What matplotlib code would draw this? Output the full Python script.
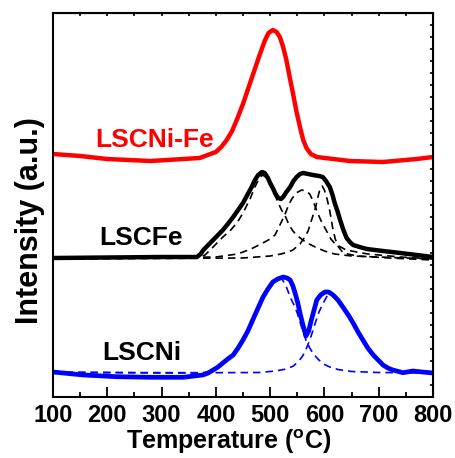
import matplotlib
matplotlib.use("Agg")
import matplotlib.pyplot as plt
from matplotlib.ticker import MultipleLocator, NullFormatter

plt.rcParams.update({
    "font.family": ["Liberation Sans", "DejaVu Sans"],
    "font.weight": "bold",
    "mathtext.fontset": "custom",
    "mathtext.rm": "Liberation Sans:bold",
    "mathtext.default": "rm",
})

RED = "#ff0000"
BLUE = "#0000ff"
BLACK = "#000000"

# --- data (intensity in arbitrary stacked units) ---
t_nife = [100, 150, 200, 280, 370, 400, 410, 420, 430, 440, 450, 460, 470, 480,
          490, 497, 505, 512, 518, 524, 530, 536, 542, 548, 555, 561, 567, 575,
          586, 647, 708, 770, 800]
i_nife = [243, 241, 238, 236, 239, 245, 250, 257, 266, 279, 293, 309, 325, 341,
          356, 364, 367, 365, 360, 350, 337, 320, 304, 287, 270, 257, 249, 243,
          240, 236, 235, 238, 240]

t_fe = [100, 200, 300, 365, 372, 377, 386, 395, 404, 413, 422, 432, 441, 450,
        458, 466, 472, 478, 485, 490, 496, 500, 505, 510, 515, 520, 524, 530,
        537, 543, 549, 555, 561, 570, 579, 590, 597, 603, 610, 615, 619, 624,
        629, 635, 641, 647, 653, 665, 678, 708, 740, 770, 800]
i_fe = [139, 139.5, 140, 140, 143, 147, 152, 157, 162, 167, 173, 180, 187, 194,
        202, 210, 217, 222, 225, 224, 219, 214, 209, 203, 199, 198, 200, 205,
        210, 216, 220, 223, 224, 223, 222, 221, 220, 216, 210, 202, 194, 186,
        177, 167, 159, 155, 152, 150, 148, 146, 144, 142, 140]

# LSCFe fitted components
t_fe1 = [100, 300, 370, 380, 395, 413, 426, 440, 450, 463, 472, 480, 486, 492,
         500, 508, 515, 522, 527, 535, 542, 549, 560, 572, 583, 600, 619, 650,
         700, 800]
i_fe1 = [139, 139, 139.5, 142, 150, 160, 166, 175, 184, 198, 210, 219, 222, 220,
         212, 203, 194, 186, 182, 172, 166, 162, 157, 153, 150, 146, 143, 141,
         140, 138]
t_fe2 = [100, 400, 440, 465, 490, 500, 509, 518, 527, 534, 540, 548, 558, 566,
         573, 580, 586, 594, 604, 612, 620, 640, 680, 740, 800]
i_fe2 = [138.5, 140, 143, 148, 155, 158, 162, 172, 182, 192, 198, 204, 207, 206,
         203, 195, 186, 176, 166, 158, 153, 147, 143, 140, 138]
t_fe3 = [100, 450, 500, 520, 533, 542, 555, 564, 570, 577, 584, 588, 592, 596,
         600, 605, 610, 615, 620, 626, 635, 660, 720, 800]
i_fe3 = [138, 139, 141, 143, 145, 147, 153, 160, 166, 178, 190, 200, 208, 211,
         207, 198, 186, 170, 158, 150, 144, 141, 139, 137]

t_ni = [100, 156, 217, 279, 340, 376, 386, 395, 404, 413, 422, 432, 441, 450,
        459, 468, 477, 487, 496, 505, 514, 524, 531, 537, 542, 546, 551, 555,
        560, 566, 571, 576, 581, 586, 593, 601, 608, 616, 625, 634, 644, 653,
        662, 671, 680, 690, 699, 708, 717, 726, 745, 763, 780, 800]
i_ni = [25, 22, 20.3, 19.7, 19.7, 22, 24, 27, 30, 34, 38, 42, 49, 57,
        66, 77, 88, 100, 108, 115, 118, 120, 119, 117, 111, 104, 94, 84,
        73, 61, 66, 77, 87, 97, 102, 105, 105, 102, 97, 90, 82, 74,
        65, 57, 49, 42, 37, 32, 29, 27, 24.3, 26, 25, 24]

# LSCNi fitted components
t_ni1 = [100, 200, 300, 370, 380, 395, 413, 432, 450, 468, 487, 505, 515, 522,
         530, 537, 544, 550, 558, 566, 573, 580, 588, 598, 610, 625, 650, 700, 800]
i_ni1 = [25, 24.5, 24, 24, 24.5, 27, 33, 42, 57, 77, 99, 114, 118, 118,
         110, 100, 92, 84, 70, 57, 49, 43, 38, 33, 30, 27.5, 25.5, 24.5, 24]
t_ni2 = [100, 400, 480, 510, 530, 543, 553, 560, 568, 575, 582, 590, 597, 604,
         610, 616, 625, 634, 653, 671, 690, 708, 726, 745, 800]
i_ni2 = [24.5, 24.3, 24.5, 26, 28, 31, 36, 41, 50, 60, 72, 85, 93, 100,
         104, 102, 97, 90, 74, 57, 42, 32, 27, 25, 24]

labels = ["LSCNi-Fe", "LSCFe", "LSCNi"]

fig = plt.figure(figsize=(4.55, 4.58), dpi=100)
ax = fig.add_axes([0.1165, 0.1332, 0.835, 0.8384])

dash = dict(lw=1.2, ls=(0, (4.5, 3)))
ax.plot(t_fe1, i_fe1, color=BLACK, **dash)
ax.plot(t_fe2, i_fe2, color=BLACK, **dash)
ax.plot(t_fe3, i_fe3, color=BLACK, **dash)
ax.plot(t_ni1, i_ni1, color=BLUE, **dash)
ax.plot(t_ni2, i_ni2, color=BLUE, **dash)

ax.plot(t_nife, i_nife, color=RED, lw=3.2, solid_joinstyle="round")
ax.plot(t_fe, i_fe, color=BLACK, lw=3.2, solid_joinstyle="round")
ax.plot(t_ni, i_ni, color=BLUE, lw=3.4, solid_joinstyle="round")

ax.text(177, 257, labels[0], color=RED, fontsize=19, fontweight="bold", va="center")
ax.text(185, 159, labels[1], color=BLACK, fontsize=19, fontweight="bold", va="center")
ax.text(190, 44, labels[2], color=BLACK, fontsize=19, fontweight="bold", va="center")

ax.set_xlim(100, 800)
ax.set_ylim(0, 384)
ax.xaxis.set_major_locator(MultipleLocator(100))
ax.xaxis.set_minor_locator(MultipleLocator(50))
ax.tick_params(axis="x", which="major", direction="in", length=7.5, width=1.3,
               labelsize=17, pad=5)
ax.tick_params(axis="x", which="minor", direction="in", length=3.8, width=1.3)
ax.set_yticks([])
for s in ax.spines.values():
    s.set_linewidth(1.5)

top = ax.secondary_xaxis("top")
top.xaxis.set_major_locator(MultipleLocator(50))
top.xaxis.set_major_formatter(NullFormatter())
top.tick_params(direction="in", length=2.5, width=1.2)
right = ax.secondary_yaxis("right")
right.yaxis.set_major_locator(MultipleLocator(12))
right.yaxis.set_major_formatter(NullFormatter())
right.tick_params(direction="in", length=2.5, width=1.2)

ax.set_xlabel("Temperature ($^{o}$C)", fontsize=18, fontweight="bold")
ax.xaxis.set_label_coords(0.463, -0.08)
ax.set_ylabel("Intensity (a.u.)", fontsize=22, fontweight="bold")
ax.yaxis.set_label_coords(-0.022, 0.46)

fig.savefig("out.png", dpi=100)
